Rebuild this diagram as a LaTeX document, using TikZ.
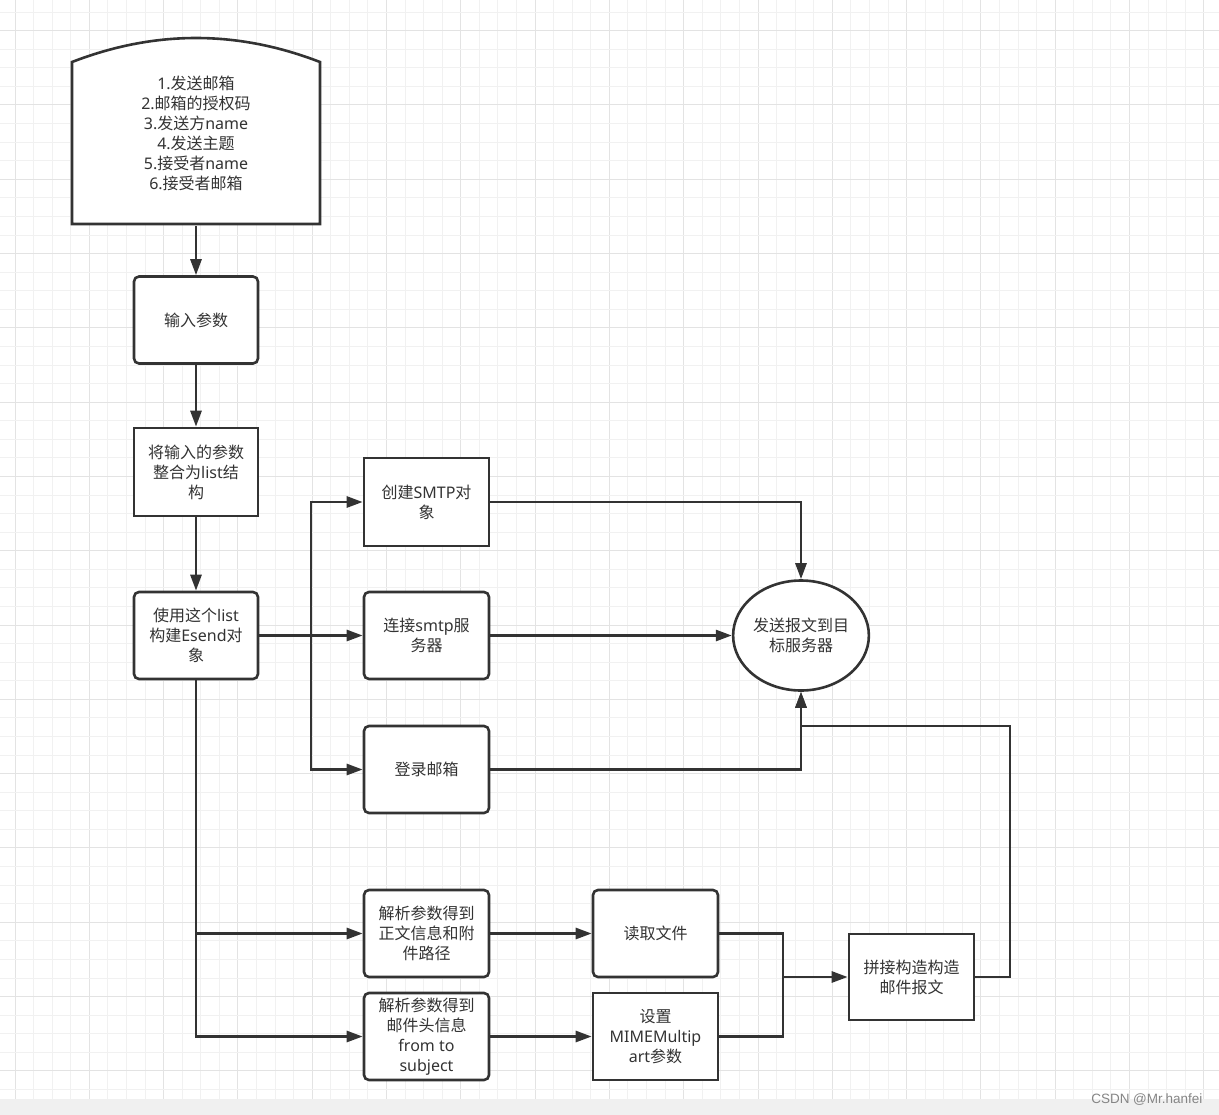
\documentclass[tikz,border=0pt]{standalone}
\usepackage{fontspec}
\setmainfont{Noto Sans CJK SC}
\newfontfamily\latinfont{Noto Sans}
\newfontfamily\markfont{Liberation Sans}
\newcommand{\latn}[1]{{\latinfont #1}}
\usetikzlibrary{arrows.meta,shapes.geometric,calc}
\definecolor{ink}{HTML}{333333}
\definecolor{gridminor}{HTML}{F1F1F1}
\definecolor{gridmajor}{HTML}{E3E3E3}
\definecolor{strip}{HTML}{F0F0F0}
\tikzset{
  every node/.style={font=\fontsize{16bp}{20bp}\selectfont, text=ink, align=center},
  stepbox/.style={draw=ink, line width=2.6bp, fill=white, minimum width=124bp, minimum height=87bp, inner sep=0pt},
  roundbox/.style={stepbox, rounded corners=5bp},
  oval/.style={ellipse, draw=ink, line width=2.6bp, fill=white, minimum width=133bp, minimum height=110bp, inner sep=0pt},
  wire/.style={draw=ink, line width=2.7bp},
  arr/.style={wire, -{Triangle[length=16bp,width=11bp]}},
}
\begin{document}
\begin{tikzpicture}[x=1bp,y=-1bp]
  % page and grid paper
  \fill[white] (0,0) rectangle (1219,1115);
  \useasboundingbox (0,0) rectangle (1219,1115);
  \foreach \i in {0,...,64} {
    \pgfmathsetmacro{\gx}{15+18.575*\i}
    \pgfmathtruncatemacro{\maj}{mod(\i,4)==0}
    \ifnum\maj=1
      \draw[gridmajor, line width=1bp] (\gx,0) -- (\gx,1099);
    \else
      \draw[gridminor, line width=1bp] (\gx,0) -- (\gx,1099);
    \fi
  }
  \foreach \j in {0,...,58} {
    \pgfmathsetmacro{\gy}{12.1+18.575*\j}
    \pgfmathtruncatemacro{\maj}{mod(\j+3,4)==0}
    \ifnum\maj=1
      \draw[gridmajor, line width=1bp] (0,\gy) -- (1219,\gy);
    \else
      \draw[gridminor, line width=1bp] (0,\gy) -- (1219,\gy);
    \fi
  }
  \fill[strip] (0,1099) rectangle (1219,1115);
  \node[font=\markfont\fontsize{13.5bp}{15bp}\selectfont, text=black!48, anchor=east] (mark) at (1206,1100) {CSDN @Mr.hanfei};

  % input card with curved top
  \draw[wire, line width=2.6bp, fill=white] (72,224) -- (72,62) .. controls (155,30) and (237,30) .. (320,62) -- (320,224) -- cycle;
  \node[minimum width=248bp, minimum height=186bp, inner sep=0pt] (src) at (196,133)
    {\latn{1.}发送邮箱\\\latn{2.}邮箱的授权码\\\latn{3.}发送方\latn{name}\\\latn{4.}发送主题\\\latn{5.}接受者\latn{name}\\\latn{6.}接受者邮箱};

  % main column
  \node[roundbox] (in) at (196,320) {输入参数};
  \node[stepbox, minimum height=88bp] (merge) at (196,472) {将输入的参数\\整合为\latn{list}结\\构};
  \node[roundbox] (esend) at (196,635.5) {使用这个\latn{list}\\构建\latn{Esend}对\\象};

  % SMTP steps
  \node[stepbox, minimum width=125bp, minimum height=88bp] (smtp) at (426.5,502) {创建\latn{SMTP}对\\象};
  \node[roundbox, minimum width=125bp] (connect) at (426.5,635.5) {连接\latn{smtp}服\\务器};
  \node[roundbox, minimum width=125bp] (login) at (426.5,769.5) {登录邮箱};
  \node[oval] (send) at (801,635.5) {发送报文到目\\标服务器};

  % message building
  \node[roundbox, minimum width=125bp] (parse1) at (426.5,933.5) {解析参数得到\\正文信息和附\\件路径};
  \node[roundbox, minimum width=125bp] (parse2) at (426.5,1036.5) {解析参数得到\\邮件头信息\\\latn{from to}\\\latn{subject}};
  \node[roundbox, minimum width=125bp] (read) at (655.5,933.5) {读取文件};
  \node[stepbox, minimum width=125bp] (mime) at (655.5,1036.5) {设置\\\latn{MIMEMultip}\\\latn{art}参数};
  \node[stepbox, minimum width=125bp, minimum height=86bp] (build) at (911.5,977) {拼接构造构造\\邮件报文};

  \coordinate (bus) at (311,635.5);
  \coordinate (join) at (783,977);
  \coordinate (ret) at (1010,726);

  % connectors
  \draw[arr] (src.south) -- (in.north);
  \draw[arr] (in.south) -- (merge.north);
  \draw[arr] (merge.south) -- (esend.north);
  \draw[arr] (esend.east) -- (connect.west);
  \draw[arr] (bus) |- (smtp.west);
  \draw[arr] (bus) |- (login.west);
  \draw[arr] (smtp.east) -| (send.north);
  \draw[arr] (connect.east) -- (send.west);
  \draw[arr] (login.east) -| (send.south);
  \draw[arr] (esend.south) |- (parse2.west);
  \draw[arr] (esend.south |- parse1.west) -- (parse1.west);
  \draw[arr] (parse1.east) -- (read.west);
  \draw[arr] (parse2.east) -- (mime.west);
  \draw[wire] (read.east) -| (join);
  \draw[wire] (mime.east) -| (join);
  \draw[arr] (join) -- (build.west);
  \draw[arr] (build.east) -| (ret) -| (send.south);
\end{tikzpicture}
\end{document}
